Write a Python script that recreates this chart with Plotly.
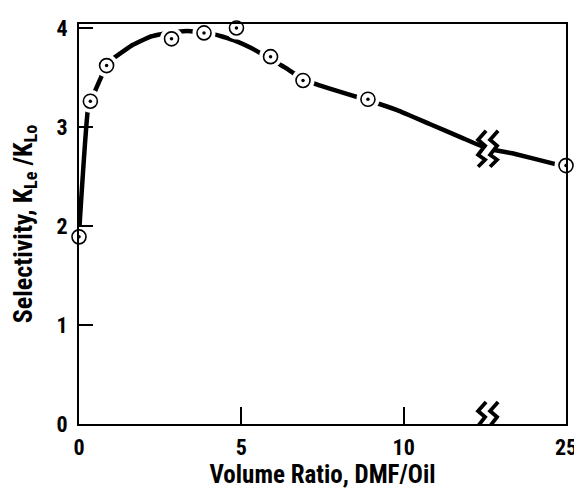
import numpy as np
import plotly.graph_objects as go

# ---- data (real x values: Volume Ratio DMF/Oil) ----
point_x = [0, 0.35, 0.85, 2.85, 3.85, 4.85, 5.9, 6.9, 8.9, 25]
point_y = [1.89, 3.26, 3.62, 3.89, 3.95, 4.0, 3.71, 3.47, 3.28, 2.61]

curve_x = [0, 0.28, 0.49, 0.65, 0.83, 1.05, 1.66, 2.18, 2.7, 3.32, 4.12, 4.74,
           5.35, 5.88, 6.4, 6.9, 7.7, 8.9, 9.8, 10.8, 11.8, 12.6, 16.75, 23, 25]
curve_y = [1.92, 3.19, 3.36, 3.48, 3.61, 3.69, 3.83, 3.91, 3.95, 3.97, 3.94, 3.88,
           3.79, 3.69, 3.59, 3.48, 3.39, 3.27, 3.17, 3.03, 2.89, 2.78, 2.73, 2.63, 2.6]

x_tick_values = [0, 5, 10, 25]
x_tick_labels = ["0", "5", "10", "25"]
y_tick_values = [0, 1, 2, 3, 4]

# ---- broken x axis: values above the break are compressed ----
BREAK_AT = 12.6
X_MAX = 25
X_AXIS_END = 15


def to_axis(v):
    v = np.asarray(v, dtype=float)
    scale = (X_AXIS_END - BREAK_AT) / (X_MAX - BREAK_AT)
    return np.where(v <= BREAK_AT, v, BREAK_AT + (v - BREAK_AT) * scale)


FONT = "Roboto Condensed, Open Sans Condensed, Liberation Sans Narrow, sans-serif"

fig = go.Figure()
fig.add_trace(go.Scatter(
    x=to_axis(curve_x), y=curve_y, mode="lines",
    line=dict(color="black", width=4.5, shape="spline", smoothing=0.3),
    hoverinfo="skip", showlegend=False))
# white halo to break the curve around each marker
fig.add_trace(go.Scatter(
    x=to_axis(point_x), y=point_y, mode="markers",
    marker=dict(symbol="circle", size=23, color="white", line=dict(width=0)),
    cliponaxis=False, hoverinfo="skip", showlegend=False))
fig.add_trace(go.Scatter(
    x=to_axis(point_x), y=point_y, mode="markers",
    marker=dict(symbol="circle", size=14, color="white",
                line=dict(color="black", width=1.6)),
    cliponaxis=False, showlegend=False))
fig.add_trace(go.Scatter(
    x=to_axis(point_x), y=point_y, mode="markers",
    marker=dict(symbol="circle", size=3.5, color="black", line=dict(width=0)),
    cliponaxis=False, hoverinfo="skip", showlegend=False))

# ---- break symbols (double zigzag) on the curve and on the x axis ----
BOLT = [(4, 18), (-4, 9), (3, 3), (-4, -6), (3, -11), (-4, -18)]
BOLT_GAP = 6


def bolt(dx, dy):
    return "M" + " L".join(f"{dx + px},{dy + py}" for px, py in BOLT)


def gap(dy):
    left = [(-BOLT_GAP + px, dy + py) for px, py in BOLT]
    right = [(BOLT_GAP + px, dy + py) for px, py in BOLT]
    poly = left + right[::-1]
    return "M" + " L".join(f"{px},{py}" for px, py in poly) + " Z"


break_pos = float(to_axis(BREAK_AT))
curve_at_break = float(np.interp(BREAK_AT, curve_x, curve_y))
for anchor_y, dy in [(curve_at_break, 0), (0, 4)]:
    common = dict(type="path", xref="x", yref="y", xsizemode="pixel",
                  ysizemode="pixel", xanchor=break_pos, yanchor=anchor_y,
                  layer="above")
    fig.add_shape(path=gap(dy), fillcolor="white", line=dict(width=0), **common)
    for dx in (-BOLT_GAP, BOLT_GAP):
        fig.add_shape(path=bolt(dx, dy), line=dict(color="black", width=3.8),
                      **common)

axis_common = dict(showgrid=False, zeroline=False, showline=True,
                   linecolor="black", linewidth=2, mirror=True,
                   ticks="inside", tickcolor="black", tickwidth=1.8,
                   tickfont=dict(family=FONT, size=22, color="black",
                                 weight="bold"))

fig.update_xaxes(range=[0, X_AXIS_END], tickvals=to_axis(x_tick_values),
                 ticktext=x_tick_labels, ticklen=17, ticklabelstandoff=3,
                 title=dict(text="Volume Ratio, DMF/Oil", standoff=0,
                            font=dict(family=FONT, size=25, color="black",
                                      weight="bold")),
                 **axis_common)
fig.update_yaxes(range=[0, 4.04], tickvals=y_tick_values, ticklen=14,
                 ticklabelstandoff=5,
                 title=dict(text="Selectivity, K<sub>Le</sub> /K<sub>Lo</sub>",
                            standoff=17,
                            font=dict(family=FONT, size=26, color="black",
                                      weight="bold")),
                 **axis_common)

# the page body adds an 8px offset; margins compensate so the plot area
# lands where the reference has it
fig.update_layout(width=582, height=488,
                  margin=dict(l=71, r=24, t=16, b=72, autoexpand=False),
                  paper_bgcolor="white", plot_bgcolor="white")

fig.write_html("out.html")
